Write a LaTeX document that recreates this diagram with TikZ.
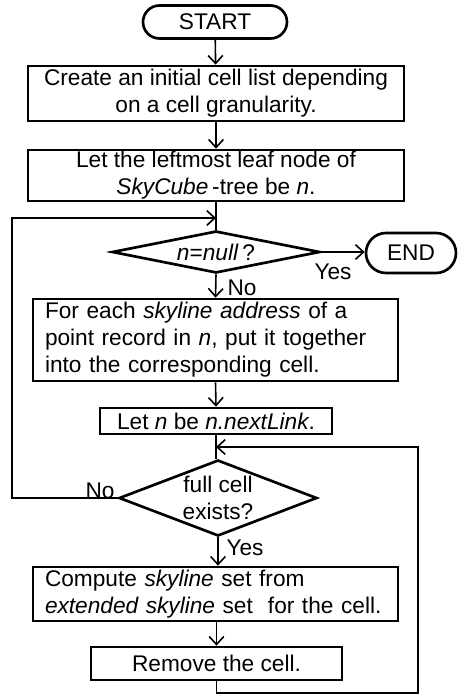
\documentclass[tikz,border=0pt]{standalone}
\usepackage{fontspec}
\setmainfont{Liberation Sans}
\usetikzlibrary{shapes.geometric,shapes.misc,arrows.meta}

\begin{document}
\begin{tikzpicture}[x=0.75pt, y=-0.75pt,
  every node/.style={font=\fontsize{17}{20.25}\selectfont},
  term/.style={draw, line width=2pt, rounded rectangle, inner sep=0pt},
  proc/.style={draw, line width=2pt, rectangle, inner sep=0pt, align=center},
  procl/.style={draw, line width=2pt, rectangle, inner xsep=9pt, inner ysep=0pt, align=left, text width=255.75pt},
  decision/.style={draw, line width=2pt, diamond, inner sep=0pt},
  flow/.style={line width=1.2pt, -{Straight Barb[length=6pt,width=11pt]}},
  link/.style={line width=1.2pt}]
  \useasboundingbox (0,0) rectangle (461,695);
  % Start and initialisation
  \node[term, minimum width=108pt, minimum height=24.75pt] (start) at (215,22) {START};
  \node[proc, minimum width=282pt, minimum height=41.25pt] (init) at (216,93.5)
    {Create an initial cell list depending\\on a cell granularity.};
  \node[proc, minimum width=282pt, minimum height=38.25pt] (leaf) at (216,175.5)
    {Let the leftmost leaf node of\\\textit{SkyCube}\,-tree be \textit{n}.};
  % Outer loop over leaf nodes
  \node[decision, minimum width=156pt, minimum height=31.5pt,
        label={center:\textit{n}=\textit{null}\,?}] (nullq) at (216,252) {};
  \node[term, minimum width=67.5pt, minimum height=30pt] (stop) at (411,253) {END};
  \node (yes1) at (333,272) {Yes};
  \node (no1) at (242,288) {No};
  \node[procl, minimum height=61.5pt] (put) at (215.5,340)
    {For each \textit{skyline address} of a\\point record in \textit{n}, put it together\\into the corresponding cell.};
  \node[proc, minimum width=174pt, minimum height=19.5pt] (next) at (216,421)
    {Let \textit{n} be \textit{n.nextLink}.};
  % Inner loop over full cells
  \node[decision, minimum width=148.5pt, minimum height=57pt,
        label={[align=center]center:full cell\\exists?}] (full) at (218,498) {};
  \node (no2) at (100,491) {No};
  \node (yes2) at (245,548) {Yes};
  \node[procl, minimum height=40.5pt] (sky) at (215.5,594)
    {Compute \textit{skyline} set from\\\textit{extended skyline} set\ \ for the cell.};
  \node[proc, minimum width=188.25pt, minimum height=24.75pt] (remove) at (216.5,663.5)
    {Remove the cell.};
  % Joints of the two loops
  \coordinate (jin1) at (216,218);
  \coordinate (leftc) at (12,218);
  \coordinate (jin2) at (216,447);
  \coordinate (rightc) at (418,693);
  % Connectors
  \draw[flow] (start) -- (init);
  \draw[flow] (init) -- (leaf);
  \draw[link] (leaf.south) -- (nullq.north);
  \draw[flow] (nullq.east) -- (nullq.east -| stop.west);
  \draw[flow] (nullq.south) -- (put.north);
  \draw[flow] (put.south) -- (next.north);
  \draw[link] (next.south) -- (next.south |- full.north);
  \draw[flow] (full.south) -- (full.south |- sky.north);
  \draw[flow] (sky.south -| remove.north) -- (remove.north);
  \draw[flow] (full.west) -| (leftc) -- (jin1);
  \draw[flow] (remove.south) |- (rightc) |- (jin2);
\end{tikzpicture}
\end{document}
